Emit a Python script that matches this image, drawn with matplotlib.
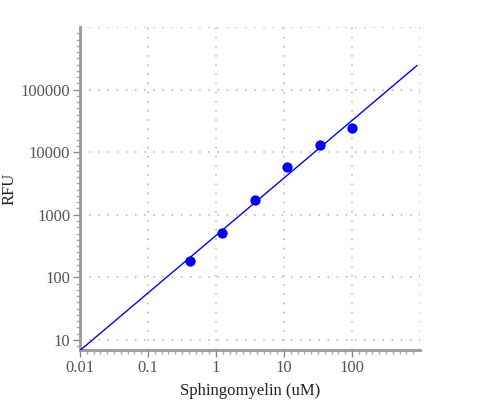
import matplotlib
matplotlib.use("Agg")
import matplotlib.pyplot as plt
import numpy as np
from matplotlib.ticker import FixedLocator, LogLocator, NullFormatter

# values
conc_um = [0.412, 1.235, 3.70, 11.1, 33.3, 100.0]
rfu = [180, 518, 1730, 5780, 12900, 24000]
fit_x_range = [0.01, 900]

x_ticks = [0.01, 0.1, 1, 10, 100, 1000]
x_labels = ["0.01", "0.1", "1", "10", "100", ""]
y_ticks = [10, 100, 1000, 10000, 100000, 1000000]
y_labels = ["10", "100", "1000", "10000", "100000", ""]

plt.rcParams.update({
    "font.family": ["Liberation Serif", "DejaVu Serif"],
    "font.size": 12,
})

fig = plt.figure(figsize=(5, 4), dpi=100)
ax = fig.add_axes([0.16, 0.125, 0.68, 0.8075])

# power-law fit through the points (straight line in log-log space)
slope, intercept = np.polyfit(np.log10(conc_um), np.log10(rfu), 1)
fx = np.logspace(np.log10(fit_x_range[0]), np.log10(fit_x_range[1]), 50)
fy = 10 ** (intercept + slope * np.log10(fx))

ax.plot(fx, fy, color="#0000ff", linewidth=1.0, zorder=3)
ax.scatter(conc_um, rfu, s=55, color="#0000ff", zorder=4, linewidths=0)

ax.set_xscale("log")
ax.set_yscale("log")
ax.set_xlim(0.01, 1000)
ax.set_ylim(6.9, 1000000)

ax.xaxis.set_major_locator(FixedLocator(x_ticks))
ax.yaxis.set_major_locator(FixedLocator(y_ticks))
ax.set_xticklabels(x_labels)
ax.set_yticklabels(y_labels)
subs = 10 ** (np.arange(1, 10) / 10)
ax.xaxis.set_minor_locator(LogLocator(base=10, subs=subs, numticks=20))
ax.yaxis.set_minor_locator(LogLocator(base=10, subs=subs, numticks=20))
ax.xaxis.set_minor_formatter(NullFormatter())
ax.yaxis.set_minor_formatter(NullFormatter())

ax.grid(True, which="major", color="#b0b0b0", linestyle=(0, (1, 5)), linewidth=1.1)
ax.set_axisbelow(True)

for side in ["top", "right"]:
    ax.spines[side].set_visible(False)
for side in ["left", "bottom"]:
    ax.spines[side].set_color("#999999")
    ax.spines[side].set_linewidth(2)

ax.tick_params(which="major", length=5, width=1, color="#888888",
               labelcolor="#555555", labelsize=12, pad=2)
ax.tick_params(which="minor", length=3, width=1, color="#aaaaaa")
# the end ticks carry a grid line but no tick mark
ax.xaxis.get_major_ticks()[-1].tick1line.set_visible(False)
ax.yaxis.get_major_ticks()[-1].tick1line.set_visible(False)

ax.set_xlabel("Sphingomyelin (uM)", color="#222222", fontsize=12, labelpad=5)
ax.set_ylabel("RFU", color="#222222", fontsize=12)
ax.yaxis.set_label_coords(-0.185, 0.5)

fig.savefig("out.png", dpi=100)
